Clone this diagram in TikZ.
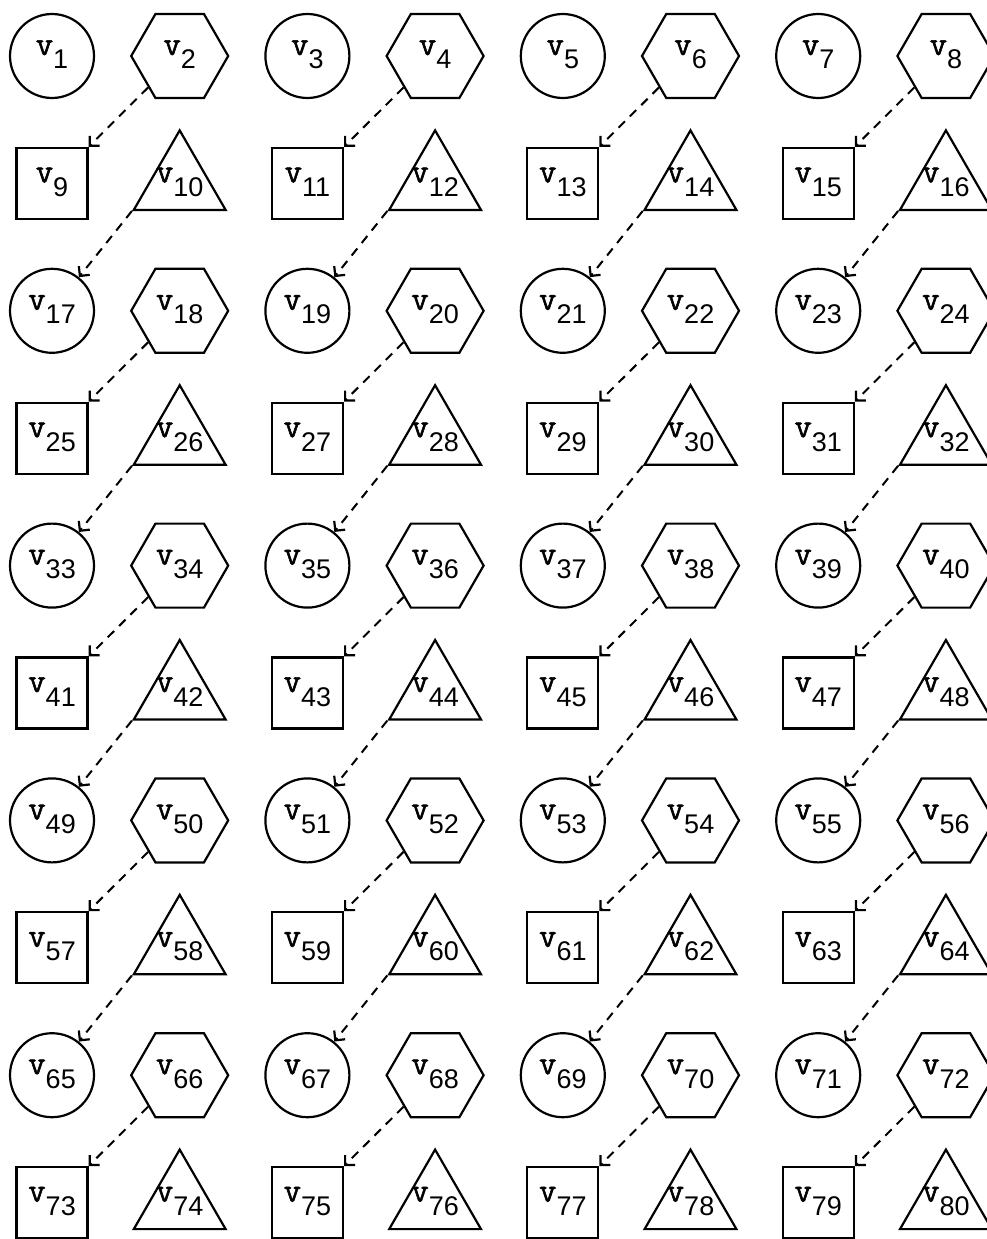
\documentclass[tikz,border=0pt]{standalone}
\usepackage{fontspec}
\usetikzlibrary{shapes.geometric,arrows.meta}
\newfontfamily\vfnt{Latin Modern Mono}[FakeBold=1.6]
\newfontfamily\dfnt{Liberation Sans}
\newcommand\lab[1]{\smash{\makebox[0pt][c]{\raisebox{1pt}{\fontsize{34}{36}\selectfont\vfnt v}\hspace{0pt}\raisebox{-13pt}{\dfnt #1}}}}
\tikzset{
  shp/.style={draw=black, line width=2.2pt, inner sep=0pt, font=\fontsize{27}{29}\selectfont},
  k0/.style={shp, circle, minimum size=84pt},
  k1/.style={shp, regular polygon, regular polygon sides=6, minimum size=97pt},
  k2/.style={shp, rectangle, minimum size=71pt},
  k3/.style={shp, regular polygon, regular polygon sides=3, minimum size=106pt},
  arr/.style={line width=2pt, dash pattern=on 9pt off 7pt, -{Straight Barb[length=7pt,width=14pt,line width=2.2pt]}}
}
\begin{document}
\begin{tikzpicture}[x=1pt,y=-1pt]
\useasboundingbox (0,0) rectangle (986,1239);
\foreach \row in {1,...,10}{
  \foreach \col in {1,...,8}{
    \pgfmathtruncatemacro{\nn}{8*(\row-1)+\col}
    \pgfmathsetmacro{\px}{52+127.7*(\col-1)}
    \pgfmathsetmacro{\py}{56+127.4*(\row-1)}
    \pgfmathtruncatemacro{\kind}{2*mod(\row+1,2)+mod(\col+1,2)}
    \node[k\kind] (v\nn) at (\px,\py) {\lab{\nn}};
  }
}
\foreach \row in {1,...,9}{
  \foreach \k in {1,...,4}{
    \pgfmathtruncatemacro{\aa}{8*(\row-1)+2*\k}
    \pgfmathtruncatemacro{\bb}{\aa+7}
    \ifodd\row\relax
      \draw[arr] (v\aa) -- (v\bb.north east);
    \else
      \draw[arr] (v\aa.corner 2) -- (v\bb);
    \fi
  }
}
\end{tikzpicture}
\end{document}
